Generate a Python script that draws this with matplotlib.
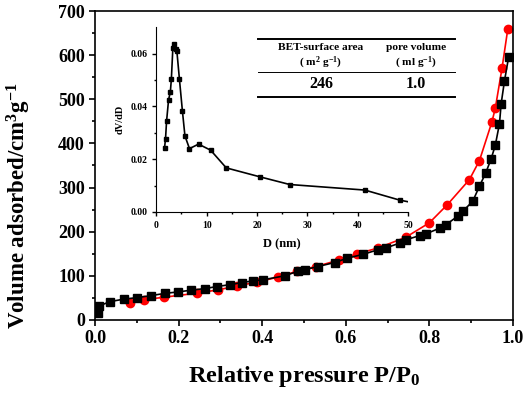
import matplotlib
matplotlib.use("Agg")
import matplotlib.pyplot as plt

plt.rcParams['font.family'] = 'Liberation Serif'
plt.rcParams['font.weight'] = 'bold'
plt.rcParams['axes.labelweight'] = 'bold'
plt.rcParams['mathtext.fontset'] = 'custom'
plt.rcParams['mathtext.bf'] = 'Liberation Serif:bold'
plt.rcParams['mathtext.rm'] = 'Liberation Serif:bold'
plt.rcParams['mathtext.default'] = 'bf'

# adsorption branch (black squares)
p_ads = [0.0065, 0.01, 0.036, 0.068, 0.101, 0.133, 0.166, 0.199, 0.23, 0.262,
         0.292, 0.323, 0.352, 0.379, 0.402, 0.454, 0.486, 0.502, 0.533, 0.573,
         0.604, 0.641, 0.677, 0.697, 0.729, 0.745, 0.777, 0.793, 0.825, 0.84,
         0.868, 0.88, 0.904, 0.92, 0.935, 0.948, 0.958, 0.968, 0.972, 0.98, 0.99]
v_ads = [15, 32, 41.6, 47, 50.7, 55, 60, 63.6, 67.4, 71,
         75.7, 80, 84.8, 88.6, 91, 100, 110.6, 113.6, 121, 130,
         140, 148.5, 159, 163.6, 174, 182, 191, 195.5, 208, 216,
         235, 246, 269, 303, 333, 365, 396, 445, 490, 542, 596]

# desorption branch (red circles)
p_des = [0.084, 0.116, 0.165, 0.243, 0.293, 0.34, 0.388, 0.438, 0.482, 0.529,
         0.584, 0.628, 0.677, 0.743, 0.8, 0.843, 0.896, 0.92, 0.95, 0.958,
         0.974, 0.988]
v_des = [38, 45.5, 51.5, 60.6, 68, 77, 86, 97, 110, 121,
         136, 150, 163, 187, 220, 261, 318, 361, 449, 480,
         570, 660]

# pore size distribution (inset)
d_pore = [1.65, 1.85, 2.05, 2.45, 2.8, 3.0, 3.3, 3.6, 3.9, 4.1, 4.6, 5.2, 5.7,
          6.6, 8.4, 10.8, 13.9, 20.6, 26.5, 41.4, 48.3]
dvdd = [0.0243, 0.0278, 0.0343, 0.0425, 0.0454, 0.0502, 0.062, 0.0637, 0.0618,
        0.0609, 0.0504, 0.0382, 0.0288, 0.024, 0.0257, 0.0234, 0.0167, 0.0133,
        0.0104, 0.0083, 0.0045]

W, H = 526, 394
fig = plt.figure(figsize=(W / 100, H / 100), dpi=100)
ax = fig.add_axes([0.181, 0.188, 0.794, 0.784])

ax.plot(p_des, v_des, '-o', color='red', ms=6, lw=1.2, zorder=2)
ax.plot(p_ads, v_ads, '-s', color='black', ms=5.5, lw=1.2, zorder=3)

ax.set_xlim(0, 1.0)
ax.set_ylim(0, 700)
ax.set_xticks([0, 0.2, 0.4, 0.6, 0.8, 1.0])
ax.set_xticks([0.1, 0.3, 0.5, 0.7, 0.9], minor=True)
ax.set_yticks(range(0, 701, 100))
ax.set_yticks(range(50, 700, 100), minor=True)
ax.xaxis.set_major_formatter(plt.FuncFormatter(lambda v, _: f"{v:.1f}"))
ax.tick_params(labelsize=13, width=1.2, length=4)
ax.tick_params(which='minor', width=1.2, length=2.5)
for s in ax.spines.values():
    s.set_linewidth(1.2)
ax.set_xlabel("Relative pressure P/P$_0$", fontsize=17.5, fontweight='bold', labelpad=12)
ax.set_ylabel("Volume adsorbed/cm$^3$g$^{-1}$", fontsize=16.5, fontweight='bold')
ax.yaxis.set_label_coords(-0.15, 0.37)

# inset
ins = fig.add_axes([0.297, 0.462, 0.479, 0.469])
ins.plot(d_pore + [49.9], dvdd + [0.0039], '-', color='black', lw=1.2)
ins.plot(d_pore, dvdd, 's', color='black', ms=3.5)
ins.set_xlim(0, 50)
ins.set_ylim(0, 0.07)
ins.set_xticks(range(0, 51, 10))
ins.set_xticks(range(5, 50, 10), minor=True)
ins.set_yticks([0, 0.02, 0.04, 0.06])
ins.set_yticks([0.01, 0.03, 0.05], minor=True)
ins.yaxis.set_major_formatter(plt.FuncFormatter(lambda v, _: f"{v:.2f}"))
ins.spines['top'].set_visible(False)
ins.spines['right'].set_visible(False)
ins.patch.set_alpha(0)
ins.tick_params(labelsize=7, width=1, length=3)
ins.tick_params(which='minor', width=1, length=1.5)
ins.set_xlabel("D (nm)", fontsize=9, fontweight='bold', labelpad=6)
ins.set_ylabel("dV/dD", fontsize=7.5, fontweight='bold', labelpad=4)

# table inside inset
for ty, lw in [(39, 1.4), (71.7, 0.7), (96.7, 1.4)]:
    fig.add_artist(plt.Line2D([258 / W, 455 / W], [1 - ty / H, 1 - ty / H],
                              color='black', lw=lw))
tkw = dict(ha='center', va='center', fontweight='bold')
fig.text(321 / W, 1 - 47 / H, "BET-surface area", fontsize=8.2, **tkw)
fig.text(321 / W, 1 - 63 / H, "( m$^2$ g$^{-1}$)", fontsize=8.2, **tkw)
fig.text(321 / W, 1 - 84 / H, "246", fontsize=11.5, **tkw)
fig.text(416 / W, 1 - 47 / H, "pore volume", fontsize=8.2, **tkw)
fig.text(416 / W, 1 - 63 / H, "( ml g$^{-1}$)", fontsize=8.2, **tkw)
fig.text(416 / W, 1 - 84 / H, "1.0", fontsize=11.5, **tkw)

fig.savefig("out.png", dpi=100)
